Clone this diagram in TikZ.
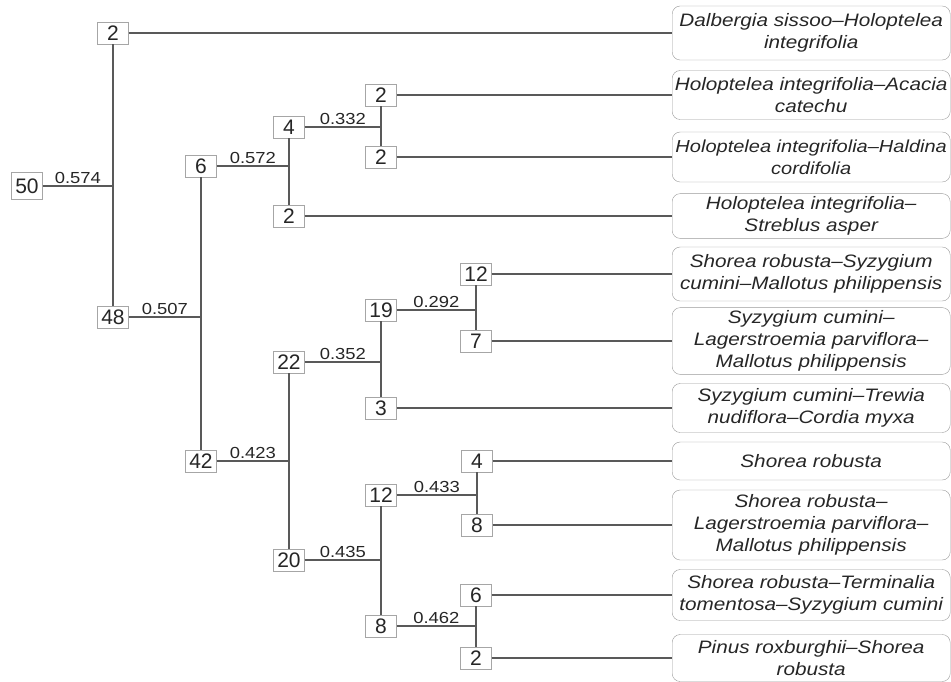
\documentclass[tikz,border=0pt]{standalone}
\usepackage{fontspec}
\setsansfont{Liberation Sans}
\newfontfamily\widesf{Liberation Sans}[FakeStretch=1.15]

\tikzset{
  cnt/.style={draw=black!35, fill=white, font=\sffamily\fontsize{21}{21}\selectfont,
    text=black!85, minimum width=31pt, minimum height=22pt, inner sep=0pt},
  leaf/.style={draw=black!40, rounded corners=8pt, anchor=west, align=center,
    font=\widesf\itshape\fontsize{18}{22}\selectfont, text=black!85,
    minimum width=278pt, inner xsep=2pt, inner ysep=3pt},
  dist/.style={midway, above, inner sep=1.5pt, text=black!85,
    font=\widesf\fontsize{16}{16}\selectfont},
  br/.style={draw=black!65, line width=1.1pt}
}

\begin{document}
\begin{tikzpicture}[x=1pt,y=-1pt]
  \useasboundingbox (0,0) rectangle (951,681);

  % counts at each split
  \node[cnt, minimum height=27pt] (n50) at (27,186) {50};
  \node[cnt] (t2)   at (113,33)  {2};
  \node[cnt] (n48)  at (113,317) {48};
  \node[cnt] (n6)   at (201,166) {6};
  \node[cnt] (n42)  at (201,461) {42};
  \node[cnt] (n4)   at (289,127) {4};
  \node[cnt] (s2)   at (289,216) {2};
  \node[cnt] (a2)   at (381,95)  {2};
  \node[cnt] (b2)   at (381,157) {2};
  \node[cnt] (n22)  at (289,362) {22};
  \node[cnt] (n20)  at (289,560) {20};
  \node[cnt] (n19)  at (381,310) {19};
  \node[cnt] (n3)   at (381,408) {3};
  \node[cnt] (n12a) at (476,274) {12};
  \node[cnt] (n7)   at (476,341) {7};
  \node[cnt] (n12b) at (381,495) {12};
  \node[cnt] (n8a)  at (381,626) {8};
  \node[cnt] (n4b)  at (477,461) {4};
  \node[cnt] (n8b)  at (477,525) {8};
  \node[cnt] (n6b)  at (476,595) {6};
  \node[cnt] (n2b)  at (476,658) {2};

  % community types
  \node[leaf, minimum height=54pt] (l1)  at (672,33)  {Dalbergia sissoo–Holoptelea\\integrifolia};
  \node[leaf, minimum height=49pt] (l2)  at (672,95)  {Holoptelea integrifolia–Acacia\\catechu};
  \node[leaf, minimum height=50pt, font=\widesf\itshape\fontsize{17.4}{22}\selectfont]
    (l3) at (672,157) {Holoptelea integrifolia–Haldina\\cordifolia};
  \node[leaf, minimum height=44pt] (l4)  at (672,216) {Holoptelea integrifolia–\\Streblus asper};
  \node[leaf, minimum height=54pt] (l5)  at (672,274) {Shorea robusta–Syzygium\\cumini–Mallotus philippensis};
  \node[leaf, minimum height=61pt] (l6)  at (672,341) {Syzygium cumini–\\Lagerstroemia parviflora–\\Mallotus philippensis};
  \node[leaf, minimum height=49pt] (l7)  at (672,408) {Syzygium cumini–Trewia\\nudiflora–Cordia myxa};
  \node[leaf, minimum height=38pt] (l8)  at (672,461) {Shorea robusta};
  \node[leaf, minimum height=70pt] (l9)  at (672,525) {Shorea robusta–\\Lagerstroemia parviflora–\\Mallotus philippensis};
  \node[leaf, minimum height=51pt] (l10) at (672,595) {Shorea robusta–Terminalia\\tomentosa–Syzygium cumini};
  \node[leaf, minimum height=47pt] (l11) at (672,658) {Pinus roxburghii–Shorea\\robusta};

  % splits
  \draw[br] (n50.east) -- (n50 -| t2) node[dist]{0.574};
  \draw[br] (t2) -- (n48);
  \draw[br] (n48.east) -- (n48 -| n6) node[dist]{0.507};
  \draw[br] (n6) -- (n42);
  \draw[br] (n6.east) -- (n6 -| n4) node[dist]{0.572};
  \draw[br] (n4) -- (s2);
  \draw[br] (n4.east) -- (n4 -| a2) node[dist]{0.332};
  \draw[br] (a2) -- (b2);
  \draw[br] (n42.east) -- (n42 -| n22) node[dist]{0.423};
  \draw[br] (n22) -- (n20);
  \draw[br] (n22.east) -- (n22 -| n19) node[dist]{0.352};
  \draw[br] (n19) -- (n3);
  \draw[br] (n19.east) -- (n19 -| n12a) node[dist]{0.292};
  \draw[br] (n12a) -- (n7);
  \draw[br] (n20.east) -- (n20 -| n12b) node[dist]{0.435};
  \draw[br] (n12b) -- (n8a);
  \draw[br] (n12b.east) -- (n12b -| n4b) node[dist]{0.433};
  \draw[br] (n4b) -- (n8b);
  \draw[br] (n8a.east) -- (n8a -| n6b) node[dist]{0.462};
  \draw[br] (n6b) -- (n2b);

  % to the community boxes
  \draw[br] (t2.east) -- (l1.west);
  \draw[br] (a2.east) -- (l2.west);
  \draw[br] (b2.east) -- (l3.west);
  \draw[br] (s2.east) -- (l4.west);
  \draw[br] (n12a.east) -- (l5.west);
  \draw[br] (n7.east) -- (l6.west);
  \draw[br] (n3.east) -- (l7.west);
  \draw[br] (n4b.east) -- (l8.west);
  \draw[br] (n8b.east) -- (l9.west);
  \draw[br] (n6b.east) -- (l10.west);
  \draw[br] (n2b.east) -- (l11.west);
\end{tikzpicture}
\end{document}
